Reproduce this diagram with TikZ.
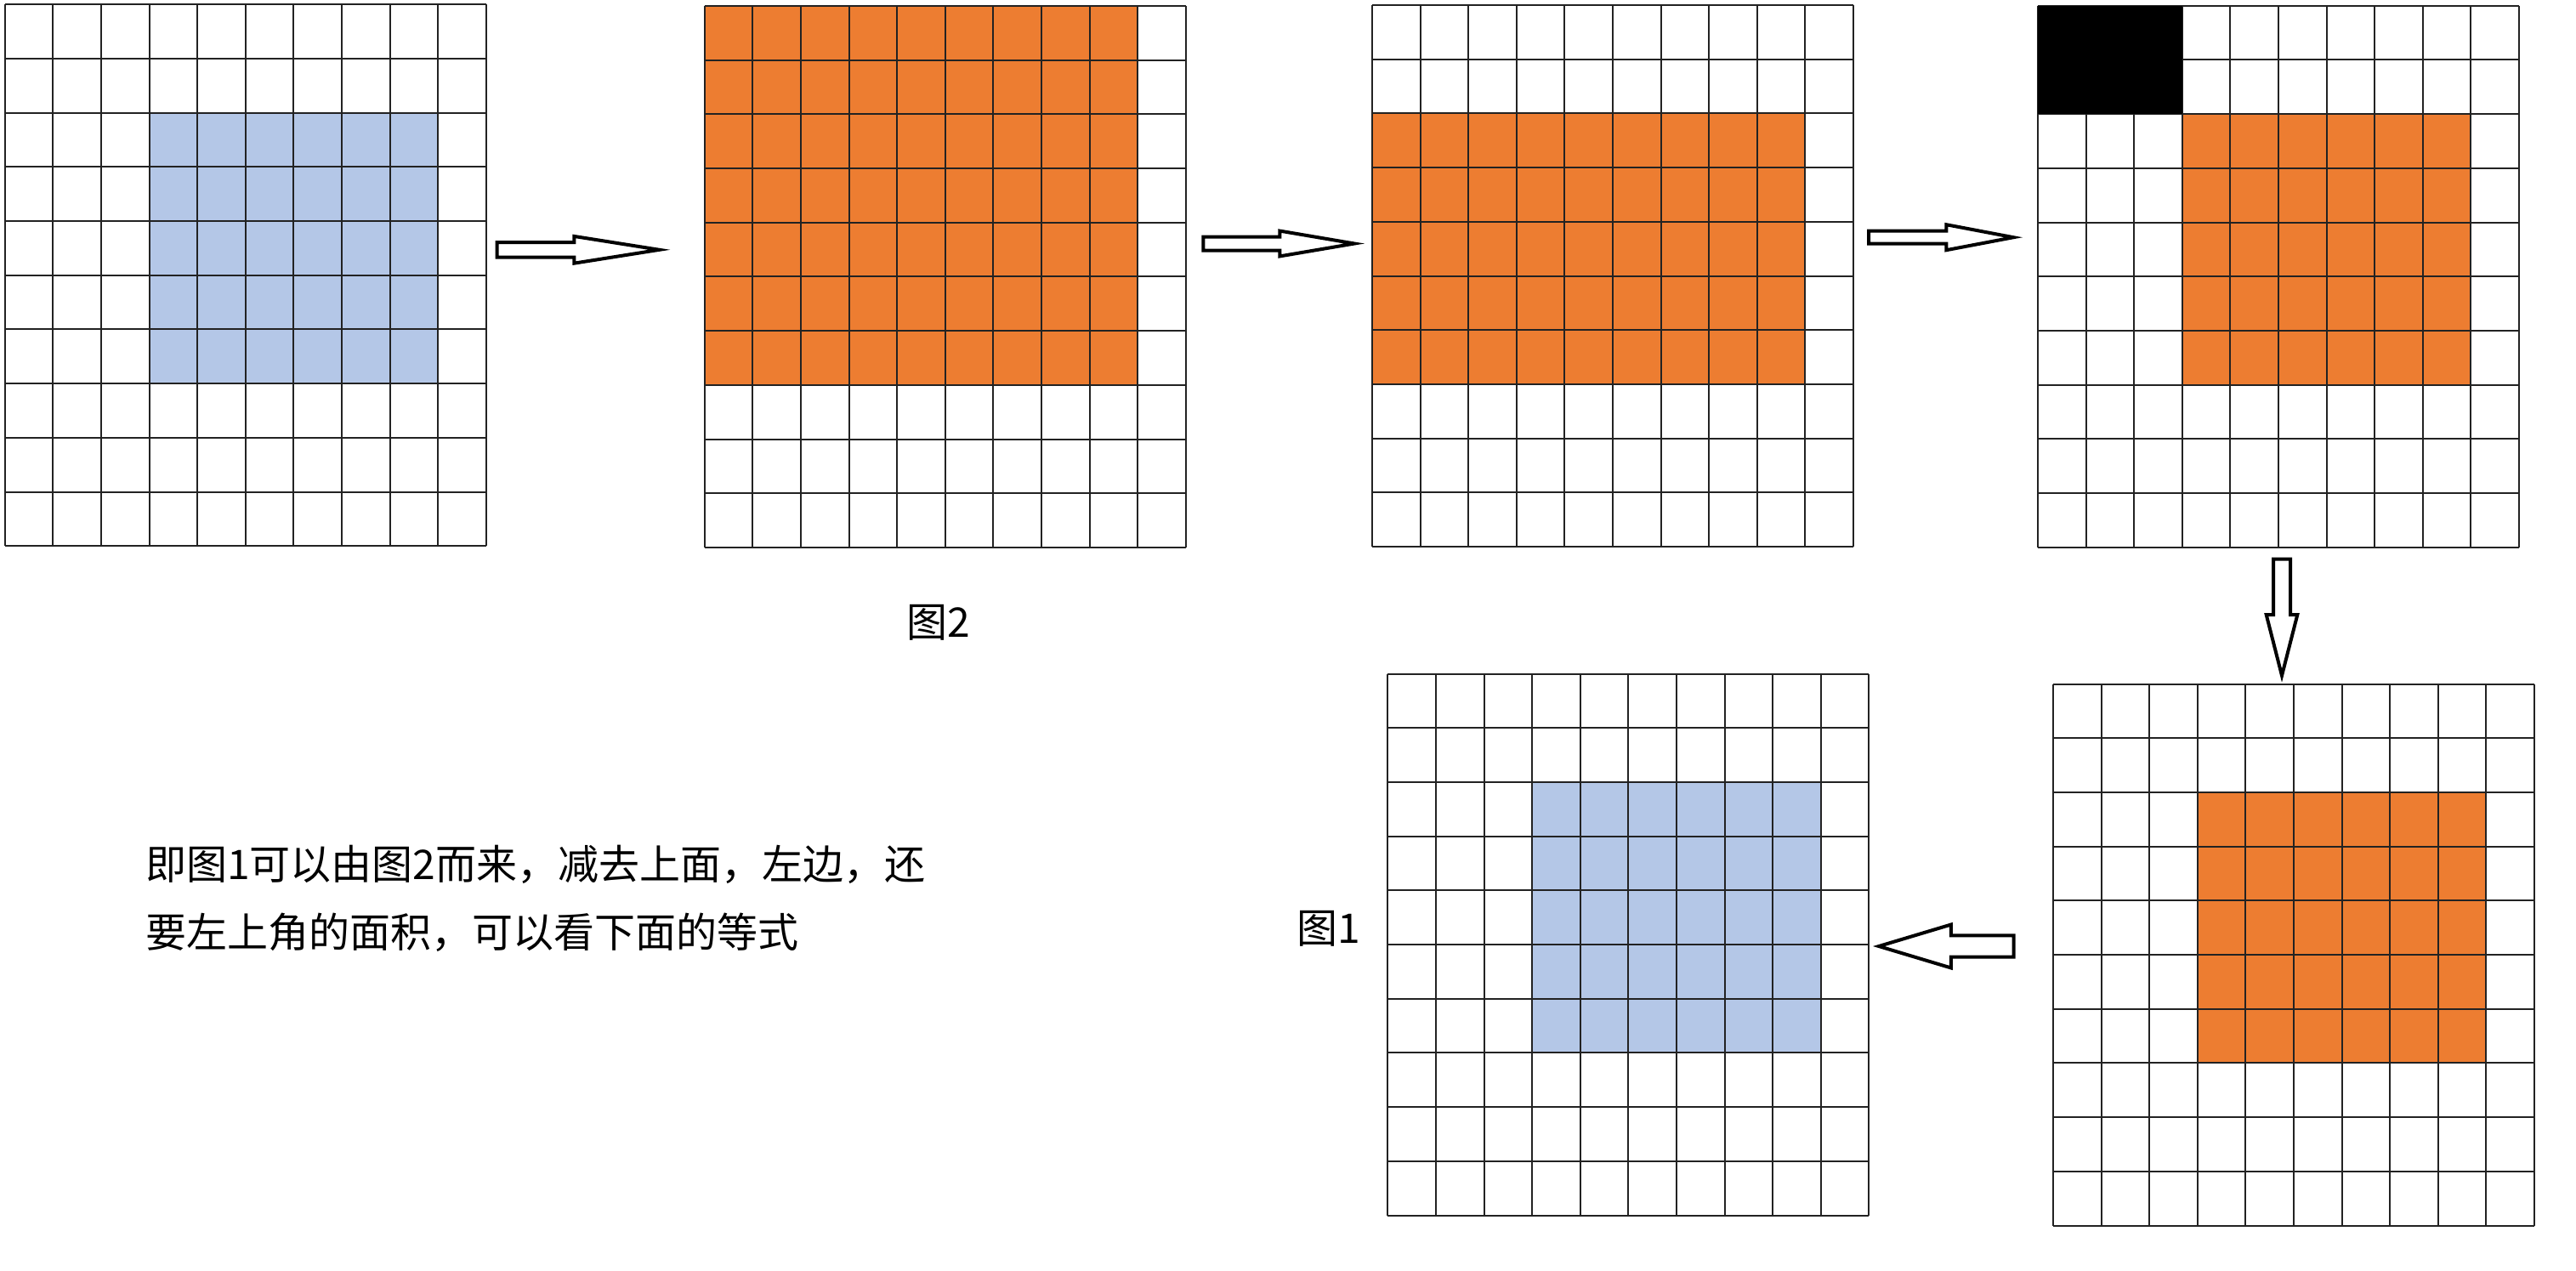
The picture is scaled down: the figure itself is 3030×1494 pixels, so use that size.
\documentclass[tikz,border=0pt]{standalone}
\usepackage{fontspec}
\newfontfamily\cjk{Noto Sans CJK SC}
\usetikzlibrary{shapes.arrows}

\definecolor{cellblue}{HTML}{B4C7E7}
\definecolor{cellorange}{HTML}{ED7D31}
\definecolor{cellline}{HTML}{222222}

\newcommand{\cw}{56.6}
\newcommand{\ch}{63.7}

% 10 x 10 cells, top left corner at (#1,#2)
\newcommand{\cellgrid}[2]{
    \foreach \i in {0,...,10}
    {
        \draw [cellline] ({#1+\i*\cw},#2)--({#1+\i*\cw},{#2+10*\ch});
        \draw [cellline] (#1,{#2+\i*\ch})--({#1+10*\cw},{#2+\i*\ch});
    }
}
% block of cells: corner (#1,#2), first column #3, first row #4, #5 columns, #6 rows, colour #7
\newcommand{\cellblock}[7]{
    \fill [#7] ({#1+#3*\cw},{#2+#4*\ch}) rectangle ++({#5*\cw},{#6*\ch});
}

\tikzset{
    cellline/.style={draw=cellline, line width=2pt},
    blockarrow/.style={single arrow, draw=black, fill=white, line width=4pt,
        inner xsep=0pt, single arrow head indent=0pt, anchor=tip},
    caption/.style={inner sep=0pt, anchor=base west, font=\cjk\fontsize{48}{58}\selectfont}
}

\begin{document}
\begin{tikzpicture}[x=1pt,y=-1pt]
    \fill [white] (0,0) rectangle (3030,1494);
    \useasboundingbox (0,0) rectangle (3030,1494);

    \cellblock{5.7}{5.2}{3}{2}{6}{5}{cellblue}
    \cellgrid{5.7}{5.2}
    \cellblock{828.7}{6.9}{0}{0}{9}{7}{cellorange}
    \cellgrid{828.7}{6.9}
    \cellblock{1614}{6}{0}{2}{9}{5}{cellorange}
    \cellgrid{1614}{6}
    \cellblock{2397}{6.7}{3}{2}{6}{5}{cellorange}
    \cellgrid{2397}{6.7}
    \cellblock{2397}{6.7}{0}{0}{3}{2}{black}
    \cellblock{2415}{804.5}{3}{2}{6}{5}{cellorange}
    \cellgrid{2415}{804.5}
    \cellblock{1632.3}{792.5}{3}{2}{6}{5}{cellblue}
    \cellgrid{1632.3}{792.5}

    \node [blockarrow, minimum height=191pt, inner ysep=6.7pt,
        single arrow head extend=7.15pt, single arrow tip angle=18] (arrA) at (788.3,293.8) {};
    \node [blockarrow, minimum height=177.8pt, inner ysep=6pt,
        single arrow head extend=6.9pt, single arrow tip angle=19.3] (arrB) at (1605,286.5) {};
    \node [blockarrow, minimum height=170.3pt, inner ysep=5.5pt,
        single arrow head extend=7.5pt, single arrow tip angle=21.5] (arrC) at (2379,279.2) {};
    \node [blockarrow, rotate=-90, minimum height=136.9pt, inner ysep=8pt,
        single arrow head extend=8.3pt, single arrow tip angle=28.7] (arrD) at (2684,802.7) {};
    \node [blockarrow, rotate=180, minimum height=158.7pt, inner ysep=10.6pt,
        single arrow head extend=12.9pt, single arrow tip angle=33.4] (arrE) at (2203,1113) {};

    \node [caption] (fig2) at (1066,749.5) {图2};
    \node [caption] (fig1) at (1525,1109) {图1};
    \node [caption] (txta) at (171,1034.5) {即图1可以由图2而来，减去上面，左边，还};
    \node [caption] (txtb) at (171,1114.5) {要左上角的面积，可以看下面的等式};

\end{tikzpicture}
\end{document}
